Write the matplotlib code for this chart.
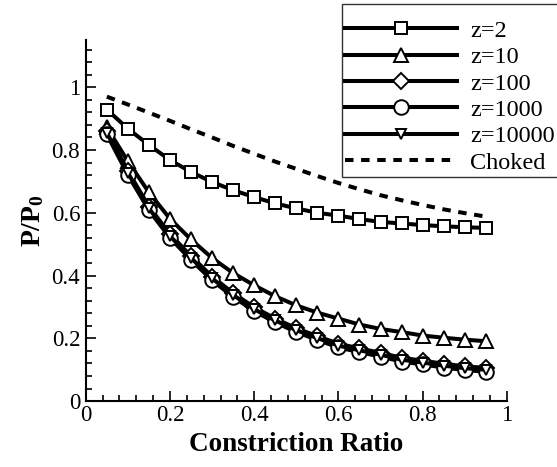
import matplotlib
matplotlib.use("Agg")
import matplotlib.pyplot as plt
from matplotlib.ticker import MultipleLocator, FuncFormatter

plt.rcParams['font.family'] = ['Liberation Serif', 'DejaVu Serif']
plt.rcParams['mathtext.fontset'] = 'custom'
plt.rcParams['mathtext.rm'] = 'Liberation Serif'
plt.rcParams['mathtext.bf'] = 'Liberation Serif:bold'

# ---- data ----
ratio = [0.05, 0.10, 0.15, 0.20, 0.25, 0.30, 0.35, 0.40, 0.45, 0.50,
         0.55, 0.60, 0.65, 0.70, 0.75, 0.80, 0.85, 0.90, 0.95]
z2 = [0.929, 0.868, 0.816, 0.768, 0.730, 0.698, 0.672, 0.650, 0.630, 0.614,
      0.600, 0.591, 0.580, 0.571, 0.566, 0.561, 0.557, 0.554, 0.552]
z10 = [0.872, 0.764, 0.665, 0.581, 0.515, 0.456, 0.408, 0.369, 0.334, 0.305,
       0.282, 0.263, 0.244, 0.230, 0.220, 0.209, 0.202, 0.196, 0.191]
z100 = [0.860, 0.733, 0.620, 0.532, 0.462, 0.397, 0.344, 0.299, 0.263, 0.232,
        0.207, 0.183, 0.168, 0.154, 0.138, 0.129, 0.119, 0.111, 0.106]
z1000 = [0.850, 0.721, 0.608, 0.520, 0.450, 0.385, 0.332, 0.287, 0.251, 0.220,
         0.195, 0.171, 0.156, 0.142, 0.126, 0.117, 0.107, 0.099, 0.094]
z10000 = [0.855, 0.727, 0.614, 0.526, 0.456, 0.391, 0.338, 0.293, 0.257, 0.226,
          0.201, 0.177, 0.162, 0.148, 0.132, 0.123, 0.113, 0.105, 0.100]
choked = [0.970, 0.945, 0.919, 0.893, 0.866, 0.840, 0.813, 0.788, 0.763, 0.740,
          0.717, 0.695, 0.675, 0.656, 0.640, 0.625, 0.611, 0.599, 0.588]

labels = ['z=2', 'z=10', 'z=100', 'z=1000', 'z=10000', 'Choked']
xlabel = 'Constriction Ratio'
ylabel = r'$\mathbf{P/P_0}$'

fig = plt.figure(figsize=(5.57, 4.67), dpi=100)
ax = fig.add_axes([0.154, 0.141, 0.756, 0.773])

lw = 2.9
mew = 1.4
common = dict(color='black', lw=lw, mfc='white', mec='black', mew=mew)
ax.plot(ratio, z2, marker='s', ms=8.8, label=labels[0], **common)
ax.plot(ratio, z10, marker='^', ms=10.5, label=labels[1], **common)
ax.plot(ratio, z100, marker='D', ms=7.8, label=labels[2], **common)
ax.plot(ratio, z1000, marker='o', ms=10.5, label=labels[3], **common)
ax.plot(ratio, z10000, marker='v', ms=7.6, label=labels[4], **common)
ax.plot(ratio, choked, color='black', lw=lw, dashes=(2.1, 1.9), label=labels[5])

ax.set_xlim(0, 1)
ax.set_ylim(0, 1.15)
ax.spines['top'].set_visible(False)
ax.spines['right'].set_visible(False)
for s in ('left', 'bottom'):
    ax.spines[s].set_linewidth(1.5)

ax.xaxis.set_major_locator(MultipleLocator(0.2))
ax.xaxis.set_minor_locator(MultipleLocator(0.04))
ax.yaxis.set_major_locator(MultipleLocator(0.2))
ax.yaxis.set_minor_locator(MultipleLocator(0.04))
fmt = FuncFormatter(lambda v, p: ('%g' % round(v, 3)))
ax.xaxis.set_major_formatter(fmt)
ax.yaxis.set_major_formatter(fmt)
ax.tick_params(which='both', direction='in', width=1.2, labelsize=16.5)
ax.tick_params(which='major', length=7)
ax.tick_params(which='minor', length=4)
ax.tick_params(axis='y', pad=4)
ax.tick_params(axis='x', pad=3)

ax.set_xlabel(xlabel, fontsize=19.5, fontweight='bold', labelpad=4)
ax.set_ylabel(ylabel, fontsize=20, labelpad=4)

leg = fig.legend(loc='upper right', bbox_to_anchor=(1.003, 0.992),
                 fontsize=17.5, handlelength=4.6, handletextpad=0.55,
                 labelspacing=0.18, borderpad=0.15, borderaxespad=0.0,
                 title=' ', title_fontsize=6,
                 fancybox=False, frameon=True)
leg.get_frame().set_edgecolor('black')
leg.get_frame().set_linewidth(1.0)

fig.savefig('out.png', dpi=100)
